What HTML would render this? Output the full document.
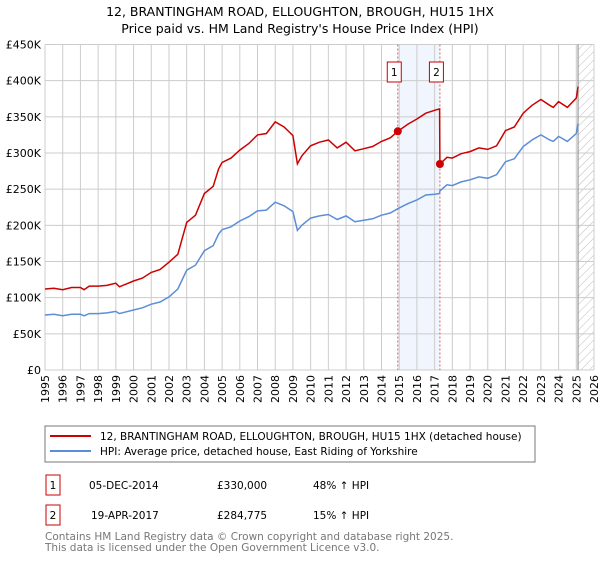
<!DOCTYPE html>
<html><head><meta charset="utf-8"><style>
body{margin:0;background:#fff;font-family:"Liberation Sans","DejaVu Sans",sans-serif;}
svg text{font-family:"DejaVu Sans","Liberation Sans",sans-serif;}
</style></head><body>
<svg id="chart" width="600" height="560" xmlns="http://www.w3.org/2000/svg">
<defs><pattern id="hatch" width="6" height="6" patternUnits="userSpaceOnUse" patternTransform="rotate(45)"><line x1="0" y1="0" x2="0" y2="6" stroke="#bbb" stroke-width="1"/></pattern></defs>
<text x="300" y="16" text-anchor="middle" font-size="12.5" fill="#000">12, BRANTINGHAM ROAD, ELLOUGHTON, BROUGH, HU15 1HX</text>
<text x="300" y="33" text-anchor="middle" font-size="12.5" fill="#000">Price paid vs. HM Land Registry's House Price Index (HPI)</text>
<g id="grid"></g><g id="marks"></g><g id="axes"></g>
<rect x="45" y="426" width="490" height="36" fill="#fff" stroke="#777"/>
<line x1="50" y1="436" x2="91" y2="436" stroke="#cc0000" stroke-width="2"/>
<text x="100" y="440" font-size="10.5">12, BRANTINGHAM ROAD, ELLOUGHTON, BROUGH, HU15 1HX (detached house)</text>
<line x1="50" y1="451" x2="91" y2="451" stroke="#5b8ed6" stroke-width="2"/>
<text x="100" y="455" font-size="10.5">HPI: Average price, detached house, East Riding of Yorkshire</text>
<g>
<rect x="46" y="475" width="14" height="20" fill="#fff" stroke="#cc0000"/>
<text x="53" y="489" text-anchor="middle" font-size="10.5">1</text>
<text x="89" y="489" font-size="10.5">05-DEC-2014</text>
<text x="217" y="489" font-size="10.5">£330,000</text>
<text x="313" y="489" font-size="10.5">48% ↑ HPI</text></g>
<g>
<rect x="46" y="505" width="14" height="20" fill="#fff" stroke="#cc0000"/>
<text x="53" y="519" text-anchor="middle" font-size="10.5">2</text>
<text x="91" y="519" font-size="10.5">19-APR-2017</text>
<text x="217" y="519" font-size="10.5">£284,775</text>
<text x="313" y="519" font-size="10.5">15% ↑ HPI</text></g>
<text x="45" y="540" font-size="10.5" fill="#777">Contains HM Land Registry data © Crown copyright and database right 2025.</text>
<text x="45" y="551" font-size="10.5" fill="#777">This data is licensed under the Open Government Licence v3.0.</text>
</svg>
<script>
const years=[1995,1995.5,1996,1996.5,1997,1997.2,1997.5,1998,1998.5,1999,1999.2,2000,2000.5,2001,2001.5,2002,2002.5,2003,2003.5,2004,2004.5,2004.8,2005,2005.5,2006,2006.5,2007,2007.5,2008,2008.5,2009,2009.25,2009.5,2010,2010.5,2011,2011.5,2012,2012.5,2013,2013.5,2014,2014.5,2014.92,2015.5,2016,2016.5,2017,2017.28,2017.3,2017.7,2018,2018.5,2019,2019.5,2020,2020.5,2021,2021.5,2022,2022.5,2023,2023.5,2023.7,2024,2024.5,2025,2025.1];
const hpiValues=[76,77,75,77,77,75,78,78,79,81,78,83,86,91,94,101,112,138,145,165,172,188,194,198,206,212,220,221,232,227,219,193,200,210,213,215,208,213,205,207,209,214,217,223,230,235,242,243,244,247.6,256,255,260,263,267,265,270,288,292,309,318,325,318,316,323,316,327,341];
const propValues=[112,113,111,114,114,111,116,116,117,120,115,123,127,135,139,149,160,204,214,244,254,278,287,293,304,313,325,327,343,336,324,285,296,310,315,318,307,315,303,306,309,316,321,330,340,347,355,359,361,284.8,294,293,299,302,307,305,310,331,336,355,366,374,366,363,371,363,376,392];
const yTicks=[0,50,100,150,200,250,300,350,400,450];
const yTickLabels=["£0","£50K","£100K","£150K","£200K","£250K","£300K","£350K","£400K","£450K"];
const xTicks=[1995,1996,1997,1998,1999,2000,2001,2002,2003,2004,2005,2006,2007,2008,2009,2010,2011,2012,2013,2014,2015,2016,2017,2018,2019,2020,2021,2022,2023,2024,2025,2026];
const saleYears=[2014.92,2017.3];
const saleValues=[330,284.775];
const saleLabels=["1","2"];
const X0=45,X1=594,Y0=370,Y1=44.5,ymin=1995,ymaxYear=2026;
const xs=y=>X0+(y-ymin)/(ymaxYear-ymin)*(X1-X0);
const ys=v=>Y0-v/450*(Y0-Y1);
const NS="http://www.w3.org/2000/svg";
function mk(parent,tag,attrs){const e=document.createElementNS(NS,tag);for(const k in attrs)e.setAttribute(k,attrs[k]);document.getElementById(parent).appendChild(e);return e;}
let e;
e=mk('grid','rect',{x:xs(saleYears[0]),y:Y1,width:xs(saleYears[1])-xs(saleYears[0]),height:Y0-Y1,fill:'#eef3fc',opacity:0.8});


e=mk('grid','rect',{x:xs(2025.1),y:Y1,width:X1-xs(2025.1),height:Y0-Y1,fill:'url(#hatch)'});


xTicks.forEach(t=>{
 e=mk('grid','line',{x1:xs(t),x2:xs(t),y1:Y1,y2:Y0,stroke:'#ccc','stroke-width':1});
 
 
 e=mk('axes','text',{transform:`translate(${xs(t)+4},${Y0+5}) rotate(-90)`,'text-anchor':'end','font-size':11});
 e.textContent=t;
 
 
});
yTicks.forEach((t,i)=>{
 e=mk('grid','line',{x1:X0,x2:X1,y1:ys(t),y2:ys(t),stroke:'#ccc','stroke-width':1});
 
 
 e=mk('axes','text',{x:X0-4,y:ys(t)+4,'text-anchor':'end','font-size':11});
 e.textContent=yTickLabels[i];
 
 
});
e=mk('grid','line',{x1:xs(2025.1),x2:xs(2025.1),y1:Y1,y2:Y0,stroke:'#888','stroke-width':1});


saleYears.forEach((s,i)=>{
 e=mk('grid','line',{x1:xs(s),x2:xs(s),y1:Y1,y2:Y0,stroke:'#e06060','stroke-width':1,'stroke-dasharray':'2,2'});
 
 
 e=mk('axes','rect',{x:xs(s)-10.5,y:62,width:14,height:20,fill:'#fff',stroke:'#cc0000'});
 
 
 e=mk('axes','text',{x:xs(s)-3.5,y:76,'text-anchor':'middle','font-size':10.5});
 e.textContent=saleLabels[i];
 
 
});
const pts=a=>years.map((y,i)=>xs(y).toFixed(1)+','+ys(a[i]).toFixed(1)).join(' ');
e=mk('marks','polyline',{points:pts(hpiValues),fill:'none',stroke:'#5b8ed6','stroke-width':1.5});


e=mk('marks','polyline',{points:pts(propValues),fill:'none',stroke:'#cc0000','stroke-width':1.5});


saleYears.forEach((s,i)=>{
 e=mk('marks','circle',{cx:xs(s),cy:ys(saleValues[i]),r:4,fill:'#cc0000'});
 
 
});
</script>
</body></html>
